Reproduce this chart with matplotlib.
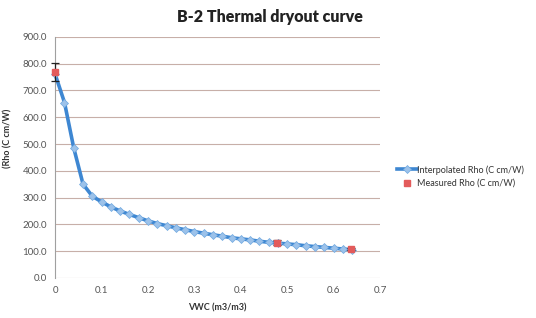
import matplotlib.pyplot as plt
from matplotlib.lines import Line2D

# interpolated curve
vwc_interp = [0.0, 0.02, 0.04, 0.06, 0.08, 0.10, 0.12, 0.14, 0.16, 0.18, 0.20,
              0.22, 0.24, 0.26, 0.28, 0.30, 0.32, 0.34, 0.36, 0.38, 0.40,
              0.42, 0.44, 0.46, 0.48, 0.50, 0.52, 0.54, 0.56, 0.58, 0.60,
              0.62, 0.64]
rho_interp = [760, 655, 485, 350, 305, 284, 265, 250, 237, 225, 213,
              203, 195, 187, 180, 173, 167, 161, 156, 150, 146,
              142, 137, 133, 130, 127, 124, 120, 117, 114, 111,
              108, 105]

# measured points
vwc_meas = [0.0, 0.477, 0.637]
rho_meas = [768, 132, 108]
rho_err = [33, 9, 4]

yticks = [0, 100, 200, 300, 400, 500, 600, 700, 800, 900]
xticks = [0, 0.1, 0.2, 0.3, 0.4, 0.5, 0.6, 0.7]

plt.rcParams['font.family'] = ['Lato', 'DejaVu Sans']

fig = plt.figure(figsize=(5.36, 3.18), dpi=100)
ax = fig.add_axes([0.103, 0.126, 0.606, 0.758])

ax.plot(vwc_interp, rho_interp, '-', color='#3E87D2', lw=2.6,
        marker='D', ms=3.8, mfc='#9CC2EA', mec='#6FA8E0', mew=0.5,
        zorder=3, clip_on=False)
eb = ax.errorbar(vwc_meas, rho_meas, yerr=rho_err, fmt='s', ms=4.3,
                 color='#E35B5B', mec='#E35B5B', ecolor='#222222', elinewidth=0.9,
                 capsize=3, capthick=0.9, zorder=4)
for art in eb.lines[0:1]:
    art.set_clip_on(False)
for art in eb.lines[1]:
    art.set_clip_on(False)
for art in eb.lines[2]:
    art.set_clip_on(False)

ax.set_xlim(0, 0.7)
ax.set_ylim(0, 900)
ax.set_xticks(xticks)
ax.set_xticklabels(['0', '0.1', '0.2', '0.3', '0.4', '0.5', '0.6', '0.7'])
ax.set_yticks(yticks)
ax.set_yticklabels([f'{v:.1f}' for v in yticks])
ax.tick_params(axis='both', labelsize=7, colors='#555555', length=0, pad=6)
ax.grid(axis='y', color='#C7AFA8', lw=0.8)
ax.set_axisbelow(True)
for s in ['top', 'right', 'bottom']:
    ax.spines[s].set_visible(False)
ax.spines['left'].set_color('#A0A0A0')
ax.spines['left'].set_linewidth(0.8)

ax.set_xlabel('VWC (m3/m3)', fontsize=6.5, fontweight='bold', color='#333333', labelpad=6)
ax.set_ylabel('(Rho (C cm/W)', fontsize=6.5, fontweight='bold', color='#333333')
ax.yaxis.set_label_coords(-0.13, 0.58)

fig.text(0.504, 0.945, 'B-2 Thermal dryout curve', ha='center', va='center',
         fontsize=11.5, fontweight='heavy', color='#222222')

handles = [
    Line2D([], [], color='#3E87D2', lw=2.6, marker='D', ms=3.8,
           mfc='#9CC2EA', mec='#6FA8E0', mew=0.5),
    Line2D([], [], ls='none', marker='s', ms=4.3, color='#E35B5B'),
]
labels = ['Interpolated Rho (C cm/W)', 'Measured Rho (C cm/W)']
fig.legend(handles, labels, loc='center left', bbox_to_anchor=(0.725, 0.445),
           frameon=False, fontsize=6.5, handlelength=2.2, handletextpad=0.1,
           labelcolor='#333333')

fig.savefig('out.png', dpi=100)
